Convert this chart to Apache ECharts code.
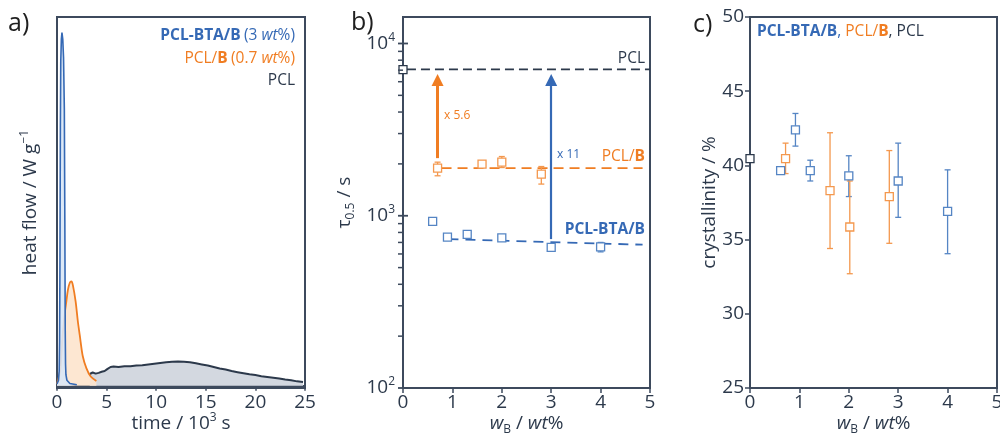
<!DOCTYPE html>
<html><head><meta charset="utf-8">
<script src="https://cdn.jsdelivr.net/npm/echarts@6/dist/echarts.min.js"></script>
<style>html,body{margin:0;padding:0;background:#fff}#c{width:1000px;height:435px}</style>
</head><body><div id="c"></div>
<script>
// ---------- Panel a: isothermal heat flow (x in 10^3 s, y arbitrary units) ----------
const aBlueX = [0, 0.15, 0.22, 0.26, 0.3, 0.34, 0.38, 0.44, 0.5, 0.58, 0.66, 0.74, 0.79, 0.83, 0.86, 0.9, 1.0, 1.3, 2.0];
const aBlueY = [0.5, 1.5, 4, 12, 35, 70, 88, 94, 95.8, 94, 89, 75, 45, 15, 6, 3, 1.5, 0.6, 0.3];
const aOrangeX = [0, 0.2, 0.36, 0.57, 0.8, 0.94, 1.1, 1.3, 1.45, 1.6, 1.88, 2.1, 2.29, 2.6, 2.96, 3.4, 3.97];
const aOrangeY = [0.5, 2.5, 5, 13.8, 20, 22.8, 26, 28, 28.3, 27.3, 22.8, 17.5, 13.8, 8, 4.8, 2.5, 1.3];
const aPclX = [3.3, 3.6, 3.9, 4.2, 4.5, 4.8, 5.1, 5.4, 5.7, 6.2, 6.8, 7.4, 8.0, 8.6, 9.2, 9.8, 10.4, 11.0, 11.6, 12.2, 12.8, 13.4, 14.0, 14.6, 15.2, 15.8, 16.4, 17.0, 17.6, 18.2, 18.8, 19.4, 20.0, 20.6, 21.2, 21.8, 22.4, 23.0, 23.6, 24.2, 24.8];
const aPclY = [3.2, 3.6, 3.3, 3.5, 3.8, 4.0, 4.6, 5.1, 5.2, 5.1, 5.3, 5.3, 5.5, 5.6, 5.8, 6.0, 6.2, 6.4, 6.5, 6.6, 6.5, 6.4, 6.1, 5.8, 5.5, 5.1, 4.7, 4.4, 4.0, 3.7, 3.4, 3.1, 2.9, 2.6, 2.4, 2.2, 2.0, 1.7, 1.5, 1.2, 1.0];
const aXTicks = [0, 25, 5];

// ---------- Panel b: half-time of crystallisation (s) vs w_B (wt%) ----------
const bPclX = [0];
const bPclY = [7050];
const bPclLineX = [0.08, 5];
const bPclLineY = [7080, 7080];
const bOrangeX = [0.7, 1.6, 2.0, 2.8];
const bOrangeY = [1890, 1994, 2047, 1745];
const bOrangeLo = [1706, 1930, 1905, 1527];
const bOrangeHi = [2047, 2060, 2207, 1931];
const bOrangeLineX = [0.78, 4.85];
const bOrangeLineY = [1890, 1890];
const bBlueX = [0.6, 0.9, 1.3, 2.0, 3.0, 4.0];
const bBlueY = [927, 752, 779, 743, 655, 659];
const bBlueLo = [905, 735, 760, 728, 640, 617];
const bBlueHi = [950, 770, 800, 760, 670, 700];
const bBlueLineX = [0.92, 4.85];
const bBlueLineY = [731, 679];
const bArrowOrange = [[0.7, 2160], [0.7, 6140]];
const bArrowBlue = [[3.0, 732], [3.0, 6140]];
const bYRange = [100, 14250];
const bMajorTicks = [100, 1000, 10000];
const bMinorTicks = [200, 300, 400, 500, 600, 700, 800, 900, 2000, 3000, 4000, 5000, 6000, 7000, 8000, 9000];

// ---------- Panel c: crystallinity (%) vs w_B (wt%) ----------
const cPclX = [0];
const cPclY = [40.45];
const cBlueX = [0.62, 0.92, 1.22, 2.0, 3.0, 4.0];
const cBlueY = [39.65, 42.4, 39.65, 39.3, 38.95, 36.9];
const cBlueLo = [39.5, 41.3, 38.95, 37.9, 36.5, 34.05];
const cBlueHi = [39.8, 43.5, 40.35, 40.65, 41.5, 39.7];
const cOrangeX = [0.72, 1.62, 2.02, 2.82];
const cOrangeY = [40.45, 38.3, 35.85, 37.9];
const cOrangeLo = [39.45, 34.4, 32.7, 34.75];
const cOrangeHi = [41.5, 42.2, 38.95, 41.0];
const cYTicks = [25, 50, 5];
const wTicks = [0, 5, 1];

// ---------- styling ----------
const FONT = 'Open Sans';
const BLUE = '#3569b5', BLUE_L = '#5585c4', BLUE_FILL = '#d9e7f6';
const ORANGE = '#f07d22', ORANGE_L = '#f4984e', ORANGE_FILL = '#fde4cd';
const DARK = '#2c394b', PCL_FILL = '#d3d8e0';
const AXIS = '#3d4a5d';
const TXT = '#2c394b';

const zip = (xs, ys) => xs.map((x, i) => [x, ys[i]]);
const zip3 = (xs, a, b) => xs.map((x, i) => [x, a[i], b[i]]);

const axisLine = { show: true, lineStyle: { color: AXIS, width: 2 } };
const labelBase = { color: TXT, fontFamily: FONT, fontSize: 19 };
const richBase = {
  a: { fontFamily: FONT, fontSize: 19, color: TXT, lineHeight: 24 },
  i: { fontFamily: FONT, fontSize: 19, color: TXT, fontStyle: 'italic', lineHeight: 24 },
  s: { fontFamily: FONT, fontSize: 12, color: TXT, verticalAlign: 'top', lineHeight: 14 },
  sub: { fontFamily: FONT, fontSize: 12, color: TXT, verticalAlign: 'bottom', lineHeight: 12 }
};

function grid(left, width) {
  return {
    left: left, top: 17, width: width, height: 371, show: true, borderColor: AXIS, borderWidth: 2,
    containLabel: false, outerBoundsMode: 'none'
  };
}

function wAxis(gi) {
  return {
    type: 'value', gridIndex: gi, min: wTicks[0], max: wTicks[1], interval: wTicks[2],
    axisLine: axisLine, splitLine: { show: false },
    axisTick: { show: true, inside: false, length: 5, lineStyle: { color: AXIS, width: 1.5 } },
    axisLabel: Object.assign({ margin: 5 }, labelBase),
    name: '{i|w}{sub|B}{a| / }{i|wt}{a|%}', nameLocation: 'middle', nameGap: 24, nameMoveOverlap: false,
    nameTextStyle: { rich: richBase }
  };
}

function errRender(color) {
  return function (params, api) {
    const x = api.value(0), lo = api.value(1), hi = api.value(2);
    const p1 = api.coord([x, lo]), p2 = api.coord([x, hi]);
    const w = 3;
    const st = { stroke: color, lineWidth: 1.3 };
    return {
      type: 'group', children: [
        { type: 'line', shape: { x1: p1[0], y1: p1[1], x2: p2[0], y2: p2[1] }, style: st },
        { type: 'line', shape: { x1: p1[0] - w, y1: p1[1], x2: p1[0] + w, y2: p1[1] }, style: st },
        { type: 'line', shape: { x1: p2[0] - w, y1: p2[1], x2: p2[0] + w, y2: p2[1] }, style: st }
      ]
    };
  };
}
function errSeries(xi, yi, xs, lo, hi, color) {
  return {
    type: 'custom', xAxisIndex: xi, yAxisIndex: yi, z: 3, silent: true,
    renderItem: errRender(color), encode: { x: 0, y: [1, 2] },
    data: zip3(xs, lo, hi)
  };
}
// tick marks on the log axis of panel b, positioned by the log scale
function tickSeries(values, len, offset, width) {
  return {
    type: 'scatter', xAxisIndex: 1, yAxisIndex: 1, z: 10, silent: true, clip: false,
    symbol: 'rect', symbolSize: [len, width], symbolOffset: [offset, 0],
    itemStyle: { color: AXIS, opacity: 1 },
    data: values.map(v => [wTicks[0], v])
  };
}
function squares(xi, yi, xs, ys, color) {
  return {
    type: 'scatter', xAxisIndex: xi, yAxisIndex: yi, z: 4, silent: true,
    symbol: 'rect', symbolSize: 8,
    itemStyle: { color: '#ffffff', borderColor: color, borderWidth: 1.3, opacity: 1 },
    data: zip(xs, ys)
  };
}
function arrow(pts, color, width) {
  return {
    silent: true, symbol: ['none', 'triangle'], symbolSize: 12,
    lineStyle: { type: 'solid', color: color, width: width },
    itemStyle: { color: color },
    label: { show: false }, emphasis: { disabled: true },
    data: [[{ coord: pts[0] }, { coord: pts[1] }]]
  };
}

const option = {
  animation: false,
  backgroundColor: '#ffffff',
  grid: [grid(57, 248), grid(403, 247), grid(750, 247)],
  xAxis: [
    {
      type: 'value', gridIndex: 0, min: aXTicks[0], max: aXTicks[1], interval: aXTicks[2],
      axisLine: axisLine, splitLine: { show: false },
      axisTick: { show: true, inside: false, length: 5, lineStyle: { color: AXIS, width: 1.5 } },
      axisLabel: Object.assign({ margin: 5 }, labelBase),
      name: '{a|time / 10}{s|3}{a| s}', nameLocation: 'middle', nameGap: 24, nameMoveOverlap: false,
      nameTextStyle: { rich: richBase }
    },
    wAxis(1), wAxis(2)
  ],
  yAxis: [
    {
      type: 'value', gridIndex: 0, min: -0.6, max: 100,
      axisLine: axisLine, axisTick: { show: false }, axisLabel: { show: false }, splitLine: { show: false },
      name: '{a|heat flow / W g}{s|−1}', nameLocation: 'middle', nameGap: 14, nameMoveOverlap: false,
      nameTextStyle: { rich: richBase }
    },
    {
      type: 'log', gridIndex: 1, logBase: 10, min: bYRange[0], max: bYRange[1],
      axisLine: axisLine, splitLine: { show: false },
      axisTick: { show: false },
      axisLabel: {
        margin: 8, showMaxLabel: false,
        formatter: v => '{a|10}{s|' + Math.round(Math.log10(v)) + '}',
        rich: richBase
      },
      name: '{a|τ}{sub|0.5}{a| / s}', nameLocation: 'middle', nameGap: 46, nameMoveOverlap: false,
      nameTextStyle: { rich: richBase }
    },
    {
      type: 'value', gridIndex: 2, min: cYTicks[0], max: cYTicks[1], interval: cYTicks[2],
      axisLine: axisLine, splitLine: { show: false },
      axisTick: { show: true, inside: false, length: 5, lineStyle: { color: AXIS, width: 1.5 } },
      axisLabel: Object.assign({ margin: 6 }, labelBase),
      name: 'crystallinity / %', nameLocation: 'middle', nameGap: 31, nameMoveOverlap: false,
      nameTextStyle: { fontFamily: FONT, fontSize: 19, color: TXT }
    }
  ],
  series: [
    // panel a
    {
      type: 'line', xAxisIndex: 0, yAxisIndex: 0, symbol: 'none', silent: true, z: 2,
      lineStyle: { color: DARK, width: 2 }, areaStyle: { color: PCL_FILL, opacity: 1 },
      data: zip(aPclX, aPclY)
    },
    {
      type: 'line', xAxisIndex: 0, yAxisIndex: 0, symbol: 'none', silent: true, z: 3, smooth: 0.3,
      lineStyle: { color: ORANGE, width: 1.8 }, areaStyle: { color: ORANGE_FILL, opacity: 0.9 },
      data: zip(aOrangeX, aOrangeY)
    },
    {
      type: 'line', xAxisIndex: 0, yAxisIndex: 0, symbol: 'none', silent: true, z: 4,
      lineStyle: { color: BLUE, width: 1.6 }, areaStyle: { color: BLUE_FILL, opacity: 0.9 },
      data: zip(aBlueX, aBlueY)
    },
    // panel b
    tickSeries(bMajorTicks, 10, 0, 1.8),
    tickSeries(bMinorTicks, 5, -2.5, 1.5),
    {
      type: 'line', xAxisIndex: 1, yAxisIndex: 1, symbol: 'none', silent: true, z: 2,
      lineStyle: { color: DARK, width: 1.8, type: [9, 5] }, data: zip(bPclLineX, bPclLineY)
    },
    {
      type: 'line', xAxisIndex: 1, yAxisIndex: 1, symbol: 'none', silent: true, z: 2,
      lineStyle: { color: ORANGE, width: 1.8, type: [10, 6] }, data: zip(bOrangeLineX, bOrangeLineY),
      markLine: arrow(bArrowOrange, ORANGE, 3)
    },
    {
      type: 'line', xAxisIndex: 1, yAxisIndex: 1, symbol: 'none', silent: true, z: 2,
      lineStyle: { color: BLUE, width: 1.8, type: [10, 7] }, data: zip(bBlueLineX, bBlueLineY),
      markLine: arrow(bArrowBlue, BLUE, 2.2)
    },
    errSeries(1, 1, bOrangeX, bOrangeLo, bOrangeHi, ORANGE_L),
    errSeries(1, 1, bBlueX, bBlueLo, bBlueHi, BLUE_L),
    squares(1, 1, bPclX, bPclY, DARK),
    squares(1, 1, bOrangeX, bOrangeY, ORANGE_L),
    squares(1, 1, bBlueX, bBlueY, BLUE_L),
    // panel c
    errSeries(2, 2, cBlueX, cBlueLo, cBlueHi, BLUE_L),
    errSeries(2, 2, cOrangeX, cOrangeLo, cOrangeHi, ORANGE_L),
    squares(2, 2, cPclX, cPclY, DARK),
    squares(2, 2, cOrangeX, cOrangeY, ORANGE_L),
    squares(2, 2, cBlueX, cBlueY, BLUE_L)
  ],
  graphic: [
    { type: 'text', x: 8, y: 24, style: { text: 'a)', fontFamily: FONT, fontSize: 25, fill: '#1f1f1f', verticalAlign: 'middle' } },
    { type: 'text', x: 351, y: 23, style: { text: 'b)', fontFamily: FONT, fontSize: 25, fill: '#1f1f1f', verticalAlign: 'middle' } },
    { type: 'text', x: 693, y: 25, style: { text: 'c)', fontFamily: FONT, fontSize: 25, fill: '#1f1f1f', verticalAlign: 'middle' } },
    // panel a legend
    {
      type: 'text', x: 295, y: 36, style: {
        text: '{b|PCL-BTA/B} {n|(3 }{i|wt}{n|%)}', align: 'right', verticalAlign: 'middle',
        rich: {
          b: { fontFamily: FONT, fontSize: 15.5, fontWeight: 'bold', fill: BLUE },
          n: { fontFamily: FONT, fontSize: 15.5, fill: BLUE },
          i: { fontFamily: FONT, fontSize: 15.5, fontStyle: 'italic', fill: BLUE }
        }
      }
    },
    {
      type: 'text', x: 295, y: 59, style: {
        text: '{n|PCL/}{b|B} {n|(0.7 }{i|wt}{n|%)}', align: 'right', verticalAlign: 'middle',
        rich: {
          b: { fontFamily: FONT, fontSize: 15.5, fontWeight: 'bold', fill: ORANGE },
          n: { fontFamily: FONT, fontSize: 15.5, fill: ORANGE },
          i: { fontFamily: FONT, fontSize: 15.5, fontStyle: 'italic', fill: ORANGE }
        }
      }
    },
    { type: 'text', x: 295, y: 81, style: { text: 'PCL', align: 'right', verticalAlign: 'middle', fontFamily: FONT, fontSize: 15.5, fill: DARK } },
    // panel b annotations
    { type: 'text', x: 645, y: 59, style: { text: 'PCL', align: 'right', verticalAlign: 'middle', fontFamily: FONT, fontSize: 15.5, fill: DARK } },
    {
      type: 'text', x: 645, y: 157, style: {
        text: '{n|PCL/}{b|B}', align: 'right', verticalAlign: 'middle',
        rich: {
          b: { fontFamily: FONT, fontSize: 15.5, fontWeight: 'bold', fill: ORANGE },
          n: { fontFamily: FONT, fontSize: 15.5, fill: ORANGE }
        }
      }
    },
    { type: 'text', x: 645, y: 230, style: { text: 'PCL-BTA/B', align: 'right', verticalAlign: 'middle', fontFamily: FONT, fontSize: 15.5, fontWeight: 'bold', fill: BLUE } },
    { type: 'text', x: 444, y: 116, style: { text: 'x 5.6', verticalAlign: 'middle', fontFamily: FONT, fontSize: 12, fill: ORANGE } },
    { type: 'text', x: 557, y: 155, style: { text: 'x 11', verticalAlign: 'middle', fontFamily: FONT, fontSize: 12, fill: BLUE } },
    // panel c legend
    {
      type: 'text', x: 757, y: 32, style: {
        text: '{bb|PCL-BTA/B}{bn|, }{on|PCL/}{ob|B}{dn|, PCL}', verticalAlign: 'middle',
        rich: {
          bb: { fontFamily: FONT, fontSize: 15.5, fontWeight: 'bold', fill: BLUE },
          bn: { fontFamily: FONT, fontSize: 15.5, fill: BLUE },
          on: { fontFamily: FONT, fontSize: 15.5, fill: ORANGE },
          ob: { fontFamily: FONT, fontSize: 15.5, fontWeight: 'bold', fill: ORANGE },
          dn: { fontFamily: FONT, fontSize: 15.5, fill: DARK }
        }
      }
    }
  ]
};

const chart = echarts.init(document.getElementById('c'), null, { renderer: 'canvas' });
chart.setOption(option);
</script>
</body></html>
